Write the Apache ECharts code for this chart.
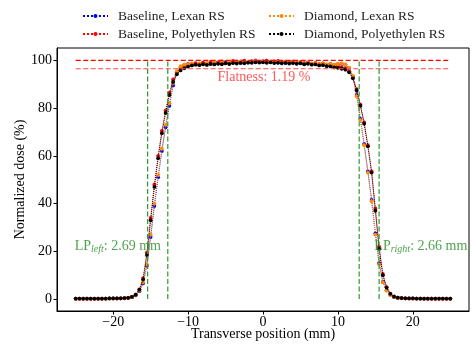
<!DOCTYPE html>
<html><head><meta charset="utf-8">
<script src="https://cdn.jsdelivr.net/npm/echarts@6/dist/echarts.min.js"></script>
<style>html,body{margin:0;padding:0;background:#fff}#c{width:473px;height:345px}</style>
</head><body><div id="c"></div>
<script>
// Transverse positions (mm)
var positions = [-25,-24.5,-24,-23.5,-23,-22.5,-22,-21.5,-21,-20.5,-20,-19.5,-19,-18.5,-18,-17.5,-17,-16.5,-16,-15.5,-15,-14.5,-14,-13.5,-13,-12.5,-12,-11.5,-11,-10.5,-10,-9.5,-9,-8.5,-8,-7.5,-7,-6.5,-6,-5.5,-5,-4.5,-4,-3.5,-3,-2.5,-2,-1.5,-1,-0.5,0,0.5,1,1.5,2,2.5,3,3.5,4,4.5,5,5.5,6,6.5,7,7.5,8,8.5,9,9.5,10,10.5,11,11.5,12,12.5,13,13.5,14,14.5,15,15.5,16,16.5,17,17.5,18,18.5,19,19.5,20,20.5,21,21.5,22,22.5,23,23.5,24,24.5,25];

var baselineLexan = [0.2,0.2,0.2,0.2,0.2,0.2,0.2,0.2,0.2,0.3,0.3,0.3,0.3,0.4,
0.5,0.8,1.6,3.3,6.6,14,26,39,51,62,72,81,89.5,95.0,97.3,98.0,98.4,
98.1,98.6,98.3,98.8,98.4,99.0,98.6,99.1,98.7,99.3,98.9,99.2,99.5,98.9,99.4,99.1,99.6,99.2,99.5,99.3,99.7,99.2,99.5,99.0,99.4,98.9,99.3,99.0,98.8,99.1,98.6,98.9,98.5,98.8,98.3,98.6,98.2,98.5,98.1,98.4,98.6,98.2,96.8,93.2,85.5,75.5,65,53.5,41.5,27.5,15,7.2,3.7,1.8,0.9,0.5,0.4,
0.3,0.3,0.3,0.2,0.2,0.2,0.2,0.2,0.2,0.2,0.2,0.2,0.2];

var baselinePoly = [0.1,0.1,0.1,0.1,0.1,0.1,0.1,0.1,0.2,0.2,0.2,0.2,0.3,0.3,
0.5,0.9,1.9,4.1,8.8,19.5,34,48,60,70.5,79,86.5,92,95.2,96.9,97.8,98.3,
98.6,98.9,98.5,99.1,98.7,99.4,98.9,99.2,99.6,98.9,99.3,99.8,99.1,99.5,99.9,99.2,99.6,100.0,99.4,99.7,99.9,99.3,99.6,99.8,99.1,99.5,99.2,99.6,98.9,99.3,98.8,99.2,98.6,98.9,98.4,98.7,98.2,98.3,97.9,97.6,97.2,96.6,95.4,93.0,88.0,81.5,74,64.5,53.5,38,22,10.5,5.0,2.3,1.1,0.6,0.4,
0.3,0.2,0.2,0.2,0.2,0.1,0.1,0.1,0.1,0.1,0.1,0.1,0.1];

var diamondLexan = [0.2,0.2,0.2,0.2,0.2,0.2,0.2,0.2,0.2,0.2,0.3,0.3,0.3,0.4,
0.5,0.8,1.7,3.5,7.0,14.5,27,40,52,63,73,82,90.5,95.5,97.6,98.2,98.3,
98.6,98.2,98.7,98.4,98.9,98.5,99.0,98.7,99.2,98.8,99.3,98.9,99.2,99.6,99.1,99.4,99.2,99.7,99.3,99.5,99.2,99.6,99.1,99.4,99.2,99.5,99.0,99.3,98.9,99.2,98.7,99.0,98.6,98.8,98.4,98.7,98.3,98.5,98.2,98.5,98.7,98.3,97.0,93.5,85,75,64.5,53,41,27,14.5,7.0,3.6,1.7,0.8,0.5,0.3,
0.3,0.3,0.2,0.2,0.2,0.2,0.2,0.2,0.2,0.2,0.2,0.2,0.2];

var diamondPoly = [0.2,0.2,0.2,0.2,0.2,0.2,0.2,0.2,0.2,0.3,0.3,0.3,0.3,0.4,
0.5,0.9,1.8,3.9,8.2,18.5,33,47,59,69.5,78,85.5,91,94.2,95.8,96.7,97.4,
97.9,98.2,98.0,98.4,98.1,98.5,98.3,98.6,98.4,98.8,98.5,98.9,98.7,99.0,98.8,99.1,99.0,99.3,99.1,99.2,99.0,99.2,98.9,99.1,98.8,99.0,98.7,98.9,98.6,98.8,98.4,98.6,98.2,98.3,97.9,98.0,97.6,97.5,97.1,96.9,96.5,96.1,95.0,92.5,87.5,81,73.5,64,53,37,21,10,4.8,2.2,1.0,0.6,0.4,
0.3,0.3,0.3,0.2,0.2,0.2,0.2,0.2,0.2,0.2,0.2,0.2,0.2];

var seriesNames = ['Baseline, Lexan RS','Baseline, Polyethylen RS','Diamond, Lexan RS','Diamond, Polyethylen RS'];
var seriesColors = ['#0000ff','#ff0000','#ff8c00','#000000'];

// Flatness band and lateral penumbra markers
var flatRangeX = [-25, 25];
var flatLevels = [100, 96.5];
var flatnessText = 'Flatness: 1.19 %';
var lpPositions = [-15.4, -12.71, 12.84, 15.5];
var lpRangeY = [0, 100];
var lpLeftValue = '2.69 mm';
var lpRightValue = '2.66 mm';

var xTicks = [-20,-10,0,10,20];
var yTicks = [0,20,40,60,80,100];

var FONT = "'Liberation Serif','Times New Roman',serif";
var GREEN_TXT = '#228b22';

function pairs(arr){ return positions.map(function(x,i){ return [x, arr[i]]; }); }

var series = [];
[baselineLexan, baselinePoly, diamondLexan, diamondPoly].forEach(function(arr, k){
  series.push({
    name: seriesNames[k], type:'line', data: pairs(arr),
    symbol:'circle', symbolSize:3.8, showSymbol:true,
    lineStyle:{color:seriesColors[k], width:1, type:'dotted'},
    itemStyle:{color:seriesColors[k]},
    animation:false, z: 3 + k
  });
});
flatLevels.forEach(function(v, k){
  series.push({type:'line', silent:true, symbol:'none', animation:false, z:10,
    data: flatRangeX.map(function(x){return [x, v];}),
    lineStyle:{color: k === 0 ? '#ff0000' : '#ff4a4a', width:1.2, type:[5,2.5]}});
});
lpPositions.forEach(function(x){
  series.push({type:'line', silent:true, symbol:'none', animation:false, z:10,
    data: lpRangeY.map(function(y){return [x, y];}),
    lineStyle:{color:'#2a9a2a', width:1.2, type:[5,2.5]}});
});
var rich = {
  m:{fontFamily:FONT, fontSize:14, color:GREEN_TXT},
  s:{fontFamily:FONT, fontSize:10, fontStyle:'italic', color:GREEN_TXT, padding:[6,0,0,0]}
};
series.push({type:'scatter', silent:true, symbolSize:0, animation:false, z:12,
  data:[
    {value:[-25, 20], label:{formatter:'{m|LP}{s|left}{m|: '+lpLeftValue+'}'}},
    {value:[15, 20], label:{formatter:'{m|LP}{s|right}{m|: '+lpRightValue+'}'}}
  ],
  label:{show:true, position:'inside', align:'left', verticalAlign:'bottom', rich:rich, offset:[-1,3]}
});
series.push({type:'scatter', silent:true, symbolSize:0, animation:false, z:12,
  data:[{value:[0, flatLevels[1]]}],
  label:{show:true, position:'inside', align:'center', verticalAlign:'top', offset:[1,2],
    formatter: flatnessText, fontFamily:FONT, fontSize:14, color:'#ff2a2a'}
});

function fmt(list){
  return function(v){
    if (list.indexOf(v) < 0) return '';
    return v < 0 ? '\u2212' + Math.abs(v) : String(v);
  };
}

var legendCommon = {
  orient:'vertical', itemWidth:25, itemHeight:5, itemGap:4, top:9, padding:0,
  textStyle:{fontFamily:FONT, fontSize:13.5, color:'#222', lineHeight:14, padding:[0,0,0,5]},
  selectedMode:false
};

var chart = echarts.init(document.getElementById('c'), null, {renderer:'canvas'});
chart.setOption({
  animation:false,
  backgroundColor:'#fff',
  legend:[
    Object.assign({left:82, data:[seriesNames[0], seriesNames[1]]}, legendCommon),
    Object.assign({left:268, data:[seriesNames[2], seriesNames[3]]}, legendCommon)
  ],
  grid:{left:57, right:4, top:48, bottom:34, outerBoundsMode:'none', containLabel:false,
    show:true, borderColor:'#000', borderWidth:1, backgroundColor:'transparent'},
  xAxis:{type:'value', min:-27.5, max:27.5, splitNumber:5,
    name:'Transverse position (mm)', nameLocation:'middle', nameGap:16, nameMoveOverlap:false,
    nameTextStyle:{fontFamily:FONT, fontSize:14, color:'#000'},
    axisLine:{show:true, onZero:false, lineStyle:{color:'#000', width:1}},
    axisTick:{show:true, length:3.5, lineStyle:{color:'#000'}},
    axisLabel:{formatter:fmt(xTicks), fontFamily:FONT, fontSize:14, color:'#000', margin:4, showMinLabel:false, showMaxLabel:false},
    splitLine:{show:false}},
  yAxis:{type:'value', min:-5, max:105.2, splitNumber:5,
    name:'Normalized dose (%)', nameLocation:'middle', nameGap:30, nameMoveOverlap:false,
    nameTextStyle:{fontFamily:FONT, fontSize:14, color:'#000'},
    axisLine:{show:true, onZero:false, lineStyle:{color:'#000', width:1}},
    axisTick:{show:true, length:3.5, lineStyle:{color:'#000'}},
    axisLabel:{formatter:fmt(yTicks), fontFamily:FONT, fontSize:14, color:'#000', margin:5, showMinLabel:false, showMaxLabel:false},
    splitLine:{show:false}},
  series: series
});
</script></body></html>
